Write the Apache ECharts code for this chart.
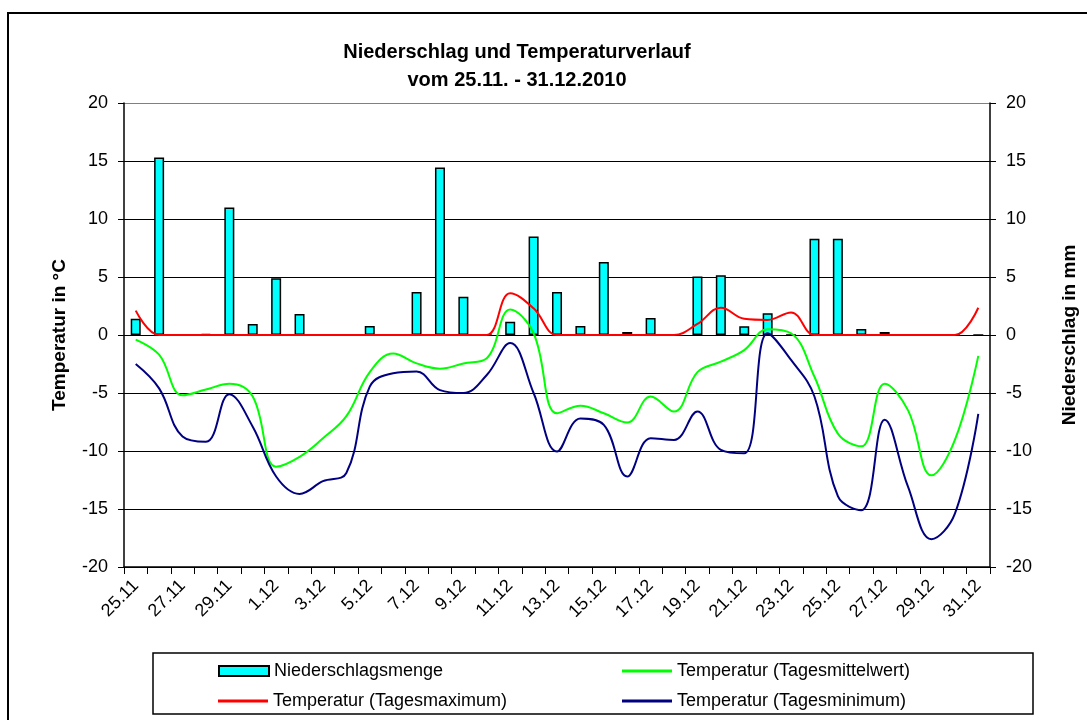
<!DOCTYPE html>
<html><head><meta charset="utf-8">
<script src="https://cdn.jsdelivr.net/npm/echarts@6/dist/echarts.min.js"></script>
<style>html,body{margin:0;padding:0;background:#fff}#c{width:1087px;height:720px}</style>
</head><body><div id="c"></div>
<script>
const categories = ['25.11','26.11','27.11','28.11','29.11','30.11','1.12','2.12','3.12','4.12','5.12','6.12','7.12','8.12','9.12','10.12','11.12','12.12','13.12','14.12','15.12','16.12','17.12','18.12','19.12','20.12','21.12','22.12','23.12','24.12','25.12','26.12','27.12','28.12','29.12','30.12','31.12'];
const precip = [1.4,15.3,0,0.1,11.0,0.95,4.9,1.8,0,0,0.78,0,3.7,14.45,3.3,0,1.15,8.5,3.7,0.78,6.3,0.26,1.46,0.05,5.05,5.15,0.75,1.87,0,8.3,8.3,0.52,0.26,0,0,0,0];
const tmean = [-0.4,-1.7,-5.2,-4.7,-4.2,-5.3,-11.35,-10.5,-8.9,-7.0,-3.2,-1.6,-2.45,-2.9,-2.45,-2.0,2.2,0.15,-6.75,-6.1,-6.75,-7.55,-5.3,-6.6,-3.2,-2.3,-1.3,0.5,0.15,-3.6,-8.5,-9.6,-4.2,-6.5,-12.1,-9.05,-1.8];
const tmax = [2.1,0,0,0,0,0,0,0,0,0,0,0,0,0,0,0,3.6,2.3,0,0,0,0,0,0,0.95,2.35,1.4,1.3,1.95,0,0,0,0,0,0,0,2.35];
const tmin = [-2.5,-4.6,-8.75,-9.2,-5.1,-7.9,-12.2,-13.7,-12.6,-11.9,-4.45,-3.3,-3.15,-4.75,-5.0,-3.45,-0.7,-5.0,-10.05,-7.2,-7.75,-12.2,-8.9,-9.05,-6.6,-9.9,-10.2,0.15,-2.15,-5.3,-13.9,-15.1,-7.3,-13.1,-17.6,-15.4,-6.8];
const names = ['Niederschlagsmenge','Temperatur (Tagesmittelwert)','Temperatur (Tagesmaximum)','Temperatur (Tagesminimum)'];

const FONT = 'Liberation Sans, Arial, sans-serif';
const chart = echarts.init(document.getElementById('c'), null, {renderer:'canvas'});
const gridColors = ['#000','#000','#000','#000','#000','#000','#000','#000','#808080'];
const yBase = {
  type:'value', min:-20, max:20, interval:5,
  axisLine:{show:true, onZero:false, lineStyle:{color:'#000', width:1.5}},
  axisTick:{show:true, length:6, lineStyle:{color:'#000'}},
  axisLabel:{color:'#000', fontSize:18, fontFamily:FONT, margin:16},
  nameLocation:'middle',
  nameTextStyle:{color:'#000', fontSize:19, fontWeight:'bold', fontFamily:FONT}
};
const legendText = {color:'#000', fontSize:18, fontFamily:FONT};
chart.setOption({
  animation:false,
  backgroundColor:'#fff',
  title:{
    text:'Niederschlag und Temperaturverlauf\nvom 25.11. - 31.12.2010',
    left:512, top:33, textAlign:'center',
    textStyle:{color:'#000', fontSize:20, fontWeight:'bold', fontFamily:FONT, lineHeight:28}
  },
  grid:{left:124, right:94, top:103, bottom:153, show:false},
  legend:[
    {data:[names[0]], left:213, top:657, itemWidth:50, itemHeight:10, textStyle:legendText, icon:'rect'},
    {data:[names[1]], left:617, top:657, itemWidth:50, itemHeight:3, textStyle:legendText, icon:'rect'},
    {data:[names[2]], left:213, top:687, itemWidth:50, itemHeight:3, textStyle:legendText, icon:'rect'},
    {data:[names[3]], left:617, top:687, itemWidth:50, itemHeight:3, textStyle:legendText, icon:'rect'}
  ],
  graphic:[
    {type:'rect', shape:{x:8, y:13, width:1100, height:720}, style:{fill:null, stroke:'#000', lineWidth:2}, silent:true, z:-10},
    {type:'rect', shape:{x:153, y:653, width:880, height:61}, style:{fill:null, stroke:'#000', lineWidth:1.5}, silent:true}
  ],
  xAxis:{
    type:'category', data:categories, boundaryGap:true,
    axisLine:{onZero:false, lineStyle:{color:'#000', width:1.5}},
    axisTick:{show:true, length:7, interval:0, lineStyle:{color:'#000'}},
    axisLabel:{interval:1, rotate:45, color:'#000', fontSize:18, fontFamily:FONT, margin:16},
    splitLine:{show:false}
  },
  yAxis:[
    Object.assign({}, yBase, {position:'left', name:'Temperatur in °C', nameGap:55,
      splitLine:{show:true, lineStyle:{color:gridColors, width:1.2}}}),
    Object.assign({}, yBase, {position:'right', name:'Niederschlag in mm', nameGap:70,
      splitLine:{show:false}})
  ],
  series:[
    {name:names[0], type:'bar', yAxisIndex:1, data:precip, barWidth:10,
      itemStyle:{color:'#00FFFF', borderColor:'#000', borderWidth:1.5}, z:2},
    {name:names[1], type:'line', yAxisIndex:0, data:tmean, smooth:0.4, symbol:'none',
      lineStyle:{color:'#00FF00', width:2}, itemStyle:{color:'#00FF00'}, z:3},
    {name:names[2], type:'line', yAxisIndex:0, data:tmax, smooth:0.4, symbol:'none',
      lineStyle:{color:'#FF0000', width:2}, itemStyle:{color:'#FF0000'}, z:4},
    {name:names[3], type:'line', yAxisIndex:0, data:tmin, smooth:0.4, symbol:'none',
      lineStyle:{color:'#000080', width:2}, itemStyle:{color:'#000080'}, z:5}
  ]
});
</script></body></html>
